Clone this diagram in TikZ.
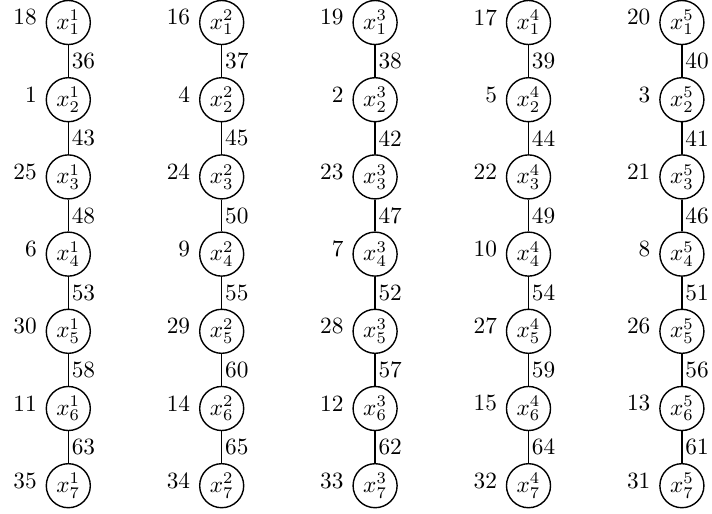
\documentclass[tikz,border=0pt]{standalone}
\begin{document}
\begin{tikzpicture}[x=0.4292pt, y=-0.4292pt,
  vx/.style={circle, draw, line width=0.6pt, minimum size=18.9pt, inner sep=0pt, font=\normalsize},
  lbl/.style={label distance=1.6pt, yshift=2.2pt, inner sep=2pt},
  edge/.style={line width=0.6pt},
  elbl/.style={anchor=west, inner sep=1.2pt}]
\useasboundingbox (0,0) rectangle (712,513);
\foreach \c/\labs/\elabs in {
  1/{18,1,25,6,30,11,35}/{36,43,48,53,58,63},
  2/{16,4,24,9,29,14,34}/{37,45,50,55,60,65},
  3/{19,2,23,7,28,12,33}/{38,42,47,52,57,62},
  4/{17,5,22,10,27,15,32}/{39,44,49,54,59,64},
  5/{20,3,21,8,26,13,31}/{40,41,46,51,56,61}}{
  \foreach \l [count=\r] in \labs {
    \node[vx, label={[lbl]left:\l}] (n-\c-\r) at ({68.3+153.4*(\c-1)}, {22.5+77.2*(\r-1)}) {$x^{\c}_{\r}$};
  }
  \foreach \e [count=\r] in \elabs {
    \pgfmathtruncatemacro\rr{\r+1}
    \draw[edge] (n-\c-\r) -- node[elbl] {\e} (n-\c-\rr);
  }
}
\end{tikzpicture}
\end{document}
